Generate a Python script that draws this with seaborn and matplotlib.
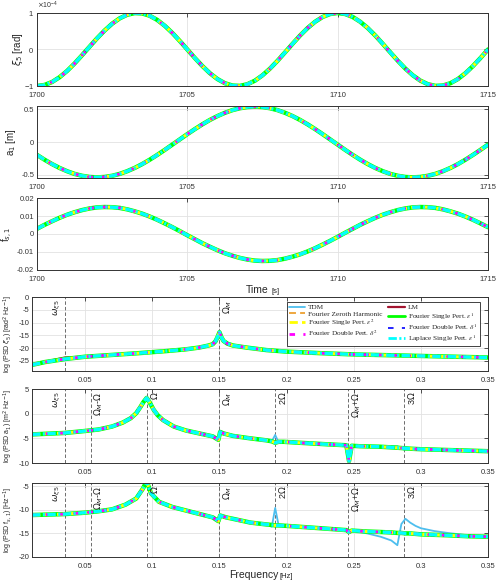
import numpy as np
import matplotlib
matplotlib.use("Agg")
import matplotlib.pyplot as plt
from matplotlib.font_manager import FontProperties
from matplotlib.ticker import FuncFormatter
import seaborn as sns

# ---------------- data ----------------
time_s = np.linspace(1700, 1715, 61)
xi5_e4 = [-1.000, -0.972, -0.891, -0.760, -0.588, -0.383, -0.156, 0.078, 0.309, 0.522,
          0.707, 0.853, 0.951, 0.997, 0.988, 0.924, 0.809, 0.649, 0.454, 0.233,
          0.000, -0.233, -0.454, -0.649, -0.809, -0.924, -0.988, -0.997, -0.951, -0.853,
          -0.707, -0.522, -0.309, -0.078, 0.156, 0.383, 0.588, 0.760, 0.891, 0.972,
          1.000, 0.972, 0.891, 0.760, 0.588, 0.383, 0.156, -0.078, -0.309, -0.522,
          -0.707, -0.853, -0.951, -0.997, -0.988, -0.924, -0.809, -0.649, -0.454, -0.233,
          0.000]
a1_m = [-0.197, -0.270, -0.337, -0.396, -0.446, -0.487, -0.516, -0.534, -0.540, -0.534,
        -0.516, -0.487, -0.446, -0.396, -0.337, -0.270, -0.197, -0.120, -0.040, 0.040,
        0.120, 0.197, 0.270, 0.337, 0.396, 0.446, 0.487, 0.516, 0.534, 0.540,
        0.534, 0.516, 0.487, 0.446, 0.396, 0.337, 0.270, 0.197, 0.120, 0.040,
        -0.040, -0.120, -0.197, -0.270, -0.337, -0.396, -0.446, -0.487, -0.516, -0.534,
        -0.540, -0.534, -0.516, -0.487, -0.446, -0.396, -0.337, -0.270, -0.197, -0.120,
        -0.040]
fs1 = [0.0029, 0.0051, 0.0071, 0.0090, 0.0107, 0.0121, 0.0133, 0.0142, 0.0148, 0.0150,
       0.0149, 0.0145, 0.0137, 0.0126, 0.0113, 0.0097, 0.0079, 0.0059, 0.0038, 0.0016,
       -0.0007, -0.0029, -0.0051, -0.0071, -0.0090, -0.0107, -0.0121, -0.0133, -0.0142, -0.0148,
       -0.0150, -0.0149, -0.0145, -0.0137, -0.0126, -0.0113, -0.0097, -0.0079, -0.0059, -0.0038,
       -0.0016, 0.0007, 0.0029, 0.0051, 0.0071, 0.0090, 0.0107, 0.0121, 0.0133, 0.0142,
       0.0148, 0.0150, 0.0149, 0.0145, 0.0137, 0.0126, 0.0113, 0.0097, 0.0079, 0.0059,
       0.0038]

# PSD of xi5
f4 = [0.0104, 0.02, 0.035, 0.05, 0.07, 0.09, 0.11, 0.125, 0.135, 0.142, 0.145, 0.147,
      0.1485, 0.150, 0.1515, 0.153, 0.156, 0.16, 0.17, 0.185, 0.2, 0.225, 0.25, 0.275,
      0.3, 0.325, 0.35]
psd_xi5_model = [-26.6, -25.5, -24.3, -23.4, -22.7, -22.0, -21.2, -20.5, -19.8, -19.0, -18.5, -17.4,
                 -15.8, -13.8, -15.8, -17.2, -18.3, -19.0, -19.8, -20.8, -21.4, -22.0, -22.5, -22.8,
                 -23.1, -23.4, -23.7]
psd_xi5_lm = [-26.6, -25.4, -23.7, -23.4, -22.7, -22.0, -21.2, -20.5, -19.8, -19.0, -18.5, -17.4,
              -15.8, -13.8, -15.8, -17.2, -18.3, -19.0, -19.8, -20.8, -21.4, -22.0, -22.5, -22.8,
              -23.1, -23.4, -23.7]

# PSD of a1
f5 = [0.0104, 0.035, 0.05, 0.06, 0.07, 0.078, 0.084, 0.088, 0.091, 0.0935, 0.0958, 0.098,
      0.101, 0.104, 0.108, 0.116, 0.125, 0.135, 0.145, 0.1492, 0.1505, 0.153, 0.16, 0.173,
      0.185, 0.189, 0.1915, 0.194, 0.198, 0.21, 0.23, 0.2445, 0.2465, 0.2485, 0.255, 0.27,
      0.2825, 0.2875, 0.2925, 0.3, 0.325, 0.35]
psd_a1_model = [-4.2, -3.9, -3.5, -3.2, -2.6, -1.8, -0.9, 0.1, 1.3, 2.4, 3.2, 2.3,
                0.8, -0.3, -1.3, -2.6, -3.4, -4.0, -4.6, -5.3, -3.7, -4.0, -4.5, -5.0,
                -5.4, -5.6, -5.9, -5.7, -5.7, -5.9, -6.2, -6.4, -9.6, -6.5, -6.6, -6.7,
                -6.9, -7.0, -7.1, -7.2, -7.4, -7.6]
psd_a1_tdm = [-4.2, -3.9, -3.5, -3.2, -2.6, -1.8, -0.9, 0.1, 1.3, 2.4, 3.2, 2.3,
              0.8, -0.3, -1.3, -2.6, -3.4, -4.0, -4.6, -5.3, -3.7, -4.0, -4.5, -5.0,
              -5.4, -5.6, -4.3, -5.8, -5.7, -5.9, -6.2, -6.4, -9.6, -6.5, -6.6, -6.7,
              -6.6, -7.3, -7.1, -7.2, -7.4, -7.6]

# PSD of f_s,1
f6 = [0.0104, 0.035, 0.05, 0.06, 0.07, 0.08, 0.088, 0.093, 0.0958, 0.099, 0.105, 0.115,
      0.13, 0.145, 0.1492, 0.1505, 0.155, 0.16, 0.173, 0.185, 0.189, 0.1915, 0.194, 0.2,
      0.225, 0.2445, 0.2465, 0.2485, 0.26, 0.27, 0.278, 0.2825, 0.2855, 0.2885, 0.292, 0.296,
      0.3, 0.31, 0.32, 0.335, 0.35]
psd_fs1_model = [-11.1, -10.9, -10.6, -10.3, -9.9, -8.9, -7.6, -5.5, -3.9, -6.5, -8.3, -9.4,
                 -10.5, -11.6, -12.4, -11.2, -11.6, -11.9, -12.7, -13.1, -13.2, -13.3, -13.3, -13.4,
                 -13.9, -14.3, -14.7, -14.4, -14.6, -14.7, -14.8, -14.9, -14.9, -15.0, -15.0, -15.1,
                 -15.2, -15.3, -15.4, -15.6, -15.7]
psd_fs1_tdm = [-11.1, -10.9, -10.6, -10.3, -9.9, -8.9, -7.6, -5.5, -3.9, -6.5, -8.3, -9.4,
               -10.5, -11.6, -12.4, -11.2, -11.6, -11.9, -12.7, -13.1, -13.6, -9.6, -13.2, -13.4,
               -13.9, -14.3, -14.7, -14.4, -15.0, -15.7, -16.5, -17.5, -13.0, -11.9, -12.7, -13.4,
               -13.9, -14.5, -14.9, -15.4, -15.6]

series_names = ["TDM", "LM", "Fourier Zeroth Harmonic", r"Fourier Single Pert. $\epsilon^1$",
                r"Fourier Single Pert. $\epsilon^2$", r"Fourier Double Pert. $\delta^1$",
                r"Fourier Double Pert. $\delta^2$", r"Laplace Single Pert. $\epsilon^1$"]
series_colors = ["#4DBEEE", "#A2142F", "#EDA030", "#00FF00", "#FFFF00", "#0000FF", "#FF00FF", "#00FFFF"]
series_styles = ["-", "-", (0, (5, 3)), "-", (0, (6, 3)), (0, (4, 6)), (0, (4, 6)), (0, (6, 1.8, 1.5, 1.8))]
series_widths = [1.3, 1.6, 1.3, 3.2, 2.2, 1.2, 2.0, 2.4]

vline_freqs = [0.035, 0.0542, 0.0958, 0.15, 0.1916, 0.2458, 0.2874]
vline_labels = [r"$\omega_{\xi5}$", r"$\Omega_M$-$\Omega$", r"$\Omega$", r"$\Omega_M$",
                r"2$\Omega$", r"$\Omega_M$+$\Omega$", r"3$\Omega$"]

# ---------------- style ----------------
sns.set_theme(style="whitegrid")
plt.rcParams["font.family"] = ["Liberation Sans", "DejaVu Sans"]
plt.rcParams["axes.unicode_minus"] = False
plt.rcParams["axes.edgecolor"] = "#333333"
plt.rcParams["axes.linewidth"] = 0.7
plt.rcParams["grid.color"] = "#E2E2E2"
plt.rcParams["grid.linewidth"] = 0.6
plt.rcParams["lines.scale_dashes"] = False

fig = plt.figure(figsize=(5, 5.85), dpi=100)

def style_ax(ax):
    ax.tick_params(direction="in", top=True, right=True, length=3, width=0.6,
                   labelsize=5.5, colors="#333333", labelcolor="#333333", pad=2)
    ax.tick_params(axis="x", pad=4)
    ax.grid(True, which="major")
    ax.set_axisbelow(True)
    for s in ax.spines.values():
        s.set_visible(True)
        s.set_color("#333333")
        s.set_linewidth(0.7)

gfmt = FuncFormatter(lambda v, p: "%g" % round(v, 6))

def draw_series(ax, xs, ys_list):
    handles = []
    for ys, name, c, ls, lw in zip(ys_list, series_names, series_colors, series_styles, series_widths):
        sns.lineplot(x=xs, y=ys, ax=ax, color=c, linestyle=ls, linewidth=lw,
                     label=name, legend=False, sort=False, estimator=None)
        handles.append(ax.lines[-1])
    return handles

L_t, W_t = 0.074, 0.902
time_axes = [
    fig.add_axes([L_t, 0.853, W_t, 0.1248]),
    fig.add_axes([L_t, 0.6957, W_t, 0.1231]),
    fig.add_axes([L_t, 0.5385, W_t, 0.1230]),
]
time_data = [np.array(xi5_e4) * 1e-4, np.array(a1_m), np.array(fs1)]
time_ylabels = [r"$\xi_5$ [rad]", r"a$_1$ [m]", r"f$_{s,1}$"]
time_ylims = [(-1e-4, 1e-4), (-0.55, 0.55), (-0.02, 0.02)]
time_yticks = [[-1e-4, 0, 1e-4], [-0.5, 0, 0.5], [-0.02, -0.01, 0, 0.01, 0.02]]
time_lblx = [-0.027, -0.042, -0.049]

for i, ax in enumerate(time_axes):
    style_ax(ax)
    draw_series(ax, time_s, [time_data[i]] * 8)
    ax.set_xlim(1700, 1715)
    ax.set_ylim(*time_ylims[i])
    ax.set_xticks([1700, 1705, 1710, 1715])
    ax.set_yticks(time_yticks[i])
    if i > 0:
        ax.yaxis.set_major_formatter(gfmt)
    ax.set_ylabel(time_ylabels[i], fontsize=7, color="#262626")
    ax.yaxis.set_label_coords(time_lblx[i], 0.5)
    ax.set_xlabel("")

# offset text for first panel
time_axes[0].ticklabel_format(axis="y", style="sci", scilimits=(-4, -4), useMathText=True)
time_axes[0].yaxis.get_offset_text().set_fontsize(5)
time_axes[0].yaxis.get_offset_text().set_color("#333333")

fig.text(0.538, 0.4991, "Time", ha="right", va="baseline", fontsize=7.5, color="#262626")
fig.text(0.542, 0.4991, "[s]", ha="left", va="baseline", fontsize=5.5, color="#262626")

L_f, W_f = 0.064, 0.912
psd_axes = [
    fig.add_axes([L_f, 0.3658, W_f, 0.1265]),
    fig.add_axes([L_f, 0.2085, W_f, 0.1265]),
    fig.add_axes([L_f, 0.0479, W_f, 0.1265]),
]
psd_x = [f4, f5, f6]
psd_sets = [
    [psd_xi5_model, psd_xi5_lm] + [psd_xi5_model] * 6,
    [psd_a1_tdm] + [psd_a1_model] * 7,
    [psd_fs1_tdm] + [psd_fs1_model] * 7,
]
psd_ylabels = [r"log (PSD $\xi_5$) [rad$^2$ Hz$^{-1}$]",
               r"log (PSD a$_1$) [m$^2$ Hz$^{-1}$]",
               r"log (PSD f$_{s,1}$) [Hz$^{-1}$]"]
psd_ylims = [(-29, 0), (-10, 5), (-20, -4.3)]
psd_yticks = [[-25, -20, -15, -10, -5, 0], [-10, -5, 0, 5], [-20, -15, -10, -5]]
psd_vl_idx = [[0, 3], list(range(7)), list(range(7))]

legend_handles = None
for i, ax in enumerate(psd_axes):
    style_ax(ax)
    for j in psd_vl_idx[i]:
        f = vline_freqs[j]
        ax.axvline(f, color="#555555", lw=0.6, ls=(0, (2.5, 1.5)), zorder=1.5)
        if j == 0:
            ax.annotate(vline_labels[j], xy=(f, 1), xycoords=("data", "axes fraction"),
                        xytext=(-1.5, -2), textcoords="offset points", rotation=90,
                        ha="right", va="top", fontsize=6.5, color="#222222")
        else:
            ax.annotate(vline_labels[j], xy=(f, 1), xycoords=("data", "axes fraction"),
                        xytext=(1.5, -2), textcoords="offset points", rotation=90,
                        ha="left", va="top", fontsize=6.5, color="#222222")
    h = draw_series(ax, psd_x[i], psd_sets[i])
    if i == 0:
        legend_handles = h
    ax.set_xlim(0.0104, 0.35)
    ax.set_ylim(*psd_ylims[i])
    ax.set_xticks([0.05, 0.1, 0.15, 0.2, 0.25, 0.3, 0.35])
    ax.set_yticks(psd_yticks[i])
    ax.xaxis.set_major_formatter(gfmt)
    ax.yaxis.set_major_formatter(gfmt)
    ax.set_ylabel(psd_ylabels[i], fontsize=5, color="#262626")
    ax.yaxis.set_label_coords(-0.037, 0.5)
    ax.set_xlabel("")

order = [0, 2, 4, 6, 1, 3, 5, 7]
leg = psd_axes[0].legend([legend_handles[k] for k in order], [series_names[k] for k in order],
                         ncol=2, loc="upper right", bbox_to_anchor=(0.982, 0.935),
                         prop=FontProperties(family="Liberation Serif", math_fontfamily="stix", size=5.2),
                         frameon=True, fancybox=False, framealpha=1, edgecolor="#222222",
                         labelspacing=0.1, borderpad=0.3, columnspacing=0.8,
                         handlelength=2.3, handletextpad=0.4, borderaxespad=0)
leg.get_frame().set_linewidth(0.6)
for lh in leg.get_lines():
    lh.set_linewidth(min(lh.get_linewidth(), 2.0))

fig.text(0.556, 0.012, "Frequency", ha="right", va="baseline", fontsize=7.5, color="#262626")
fig.text(0.560, 0.012, "[Hz]", ha="left", va="baseline", fontsize=5.5, color="#262626")

fig.savefig("out.png", dpi=100)
